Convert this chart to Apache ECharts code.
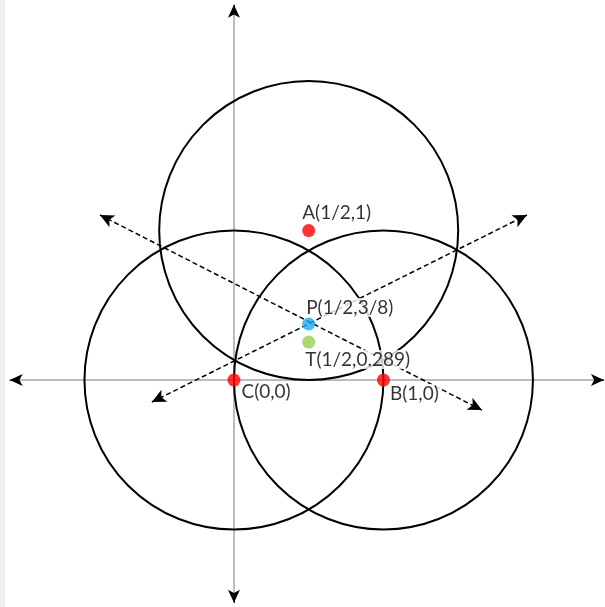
<!DOCTYPE html>
<html>
<head>
<meta charset="utf-8">
<script src="https://cdn.jsdelivr.net/npm/echarts@6/dist/echarts.min.js"></script>
<style>
html,body{margin:0;padding:0;background:#fff;}
#main{width:605px;height:607px;}
#strip{position:absolute;left:0;top:0;width:5px;height:607px;background:#efefef;}
</style>
</head>
<body>
<div id="main"></div>
<div id="strip"></div>
<script>
// ---- data ----
const pointNames = ['A(1/2,1)', 'P(1/2,3/8)', 'T(1/2,0.289)', 'C(0,0)', 'B(1,0)'];
const pointX = [0.5, 0.5, 0.5, 0, 1];
const pointY = [1, 0.375, 0.254, 0, 0];
const pointColors = ['#ff0000', '#1eaaf0', '#92d050', '#ff0000', '#ff0000'];

const circleX = [0.5, 1, 0];
const circleY = [1, 0, 0];
const circleR = [1, 1, 1];

const xAxisEnds = [[-1.50, 0], [2.475, 0]];
const yAxisEnds = [[0, 2.51], [0, -1.49]];
const dashLine1 = [[-0.896, 1.104], [1.659, -0.201]];
const dashLine2 = [[-0.549, -0.147], [1.960, 1.104]];

// ---- chart ----
const labelPos = [[-1, -11], [3, -10], [2, 24], [13, 18], [12, 20]];
const chart = echarts.init(document.getElementById('main'));

const circleData = circleX.map((x, i) => [x, circleY[i], circleR[i]]);
const pointData = pointX.map((x, i) => ({
  value: [x, pointY[i]],
  name: pointNames[i],
  itemStyle: { color: pointColors[i] },
  label: { position: labelPos[i] }
}));

function arrowSeg(p, q, frac) {
  return [{ coord: [q[0] - (q[0] - p[0]) * frac, q[1] - (q[1] - p[1]) * frac] }, { coord: q }];
}

chart.setOption({
  animation: false,
  grid: { left: 0, right: 0, top: 0, bottom: 0 },
  xAxis: { type: 'value', min: -1.565, max: 2.482, show: false },
  yAxis: { type: 'value', min: -1.518, max: 2.542, show: false },
  series: [
    {
      type: 'line', data: [], silent: true,
      markLine: {
        silent: true, z: 1, symbol: ['none', 'none'], label: { show: false },
        lineStyle: { color: '#a6a6a6', width: 1.5, type: 'solid' },
        data: [
          [{ coord: xAxisEnds[0] }, { coord: xAxisEnds[1] }],
          [{ coord: yAxisEnds[0] }, { coord: yAxisEnds[1] }]
        ]
      }
    },
    {
      type: 'custom', silent: true, z: 2, data: circleData,
      renderItem: function (params, api) {
        const c = api.coord([api.value(0), api.value(1)]);
        const r = api.size([api.value(2), 0])[0];
        return {
          type: 'circle',
          shape: { cx: c[0], cy: c[1], r: r },
          style: { fill: 'none', stroke: '#000', lineWidth: 2 }
        };
      }
    },
    {
      type: 'line', data: [], silent: true,
      markLine: {
        silent: true, z: 3, symbol: ['arrow', 'arrow'], symbolSize: [10, 14], label: { show: false },
        lineStyle: { color: '#000', width: 1.5, type: [5, 3] },
        data: [
          [{ coord: dashLine1[0] }, { coord: dashLine1[1] }],
          [{ coord: dashLine2[0] }, { coord: dashLine2[1] }]
        ]
      }
    },
    {
      type: 'line', data: [], silent: true,
      markLine: {
        silent: true, z: 3, symbol: ['none', 'arrow'], symbolSize: [9, 13], label: { show: false },
        lineStyle: { color: '#000', width: 1, type: 'solid' },
        data: [
          arrowSeg(xAxisEnds[1], xAxisEnds[0], 0.005),
          arrowSeg(xAxisEnds[0], xAxisEnds[1], 0.005),
          arrowSeg(yAxisEnds[1], yAxisEnds[0], 0.005),
          arrowSeg(yAxisEnds[0], yAxisEnds[1], 0.005)
        ]
      }
    },
    {
      type: 'scatter', data: pointData, symbolSize: 13, silent: true, z: 10,
      label: {
        show: true, formatter: '{b}', align: 'left', verticalAlign: 'middle',
        fontFamily: 'Lato', fontSize: 19, color: '#000',
        backgroundColor: '#fff', padding: [0, 1]
      }
    }
  ]
});
</script>
</body>
</html>
